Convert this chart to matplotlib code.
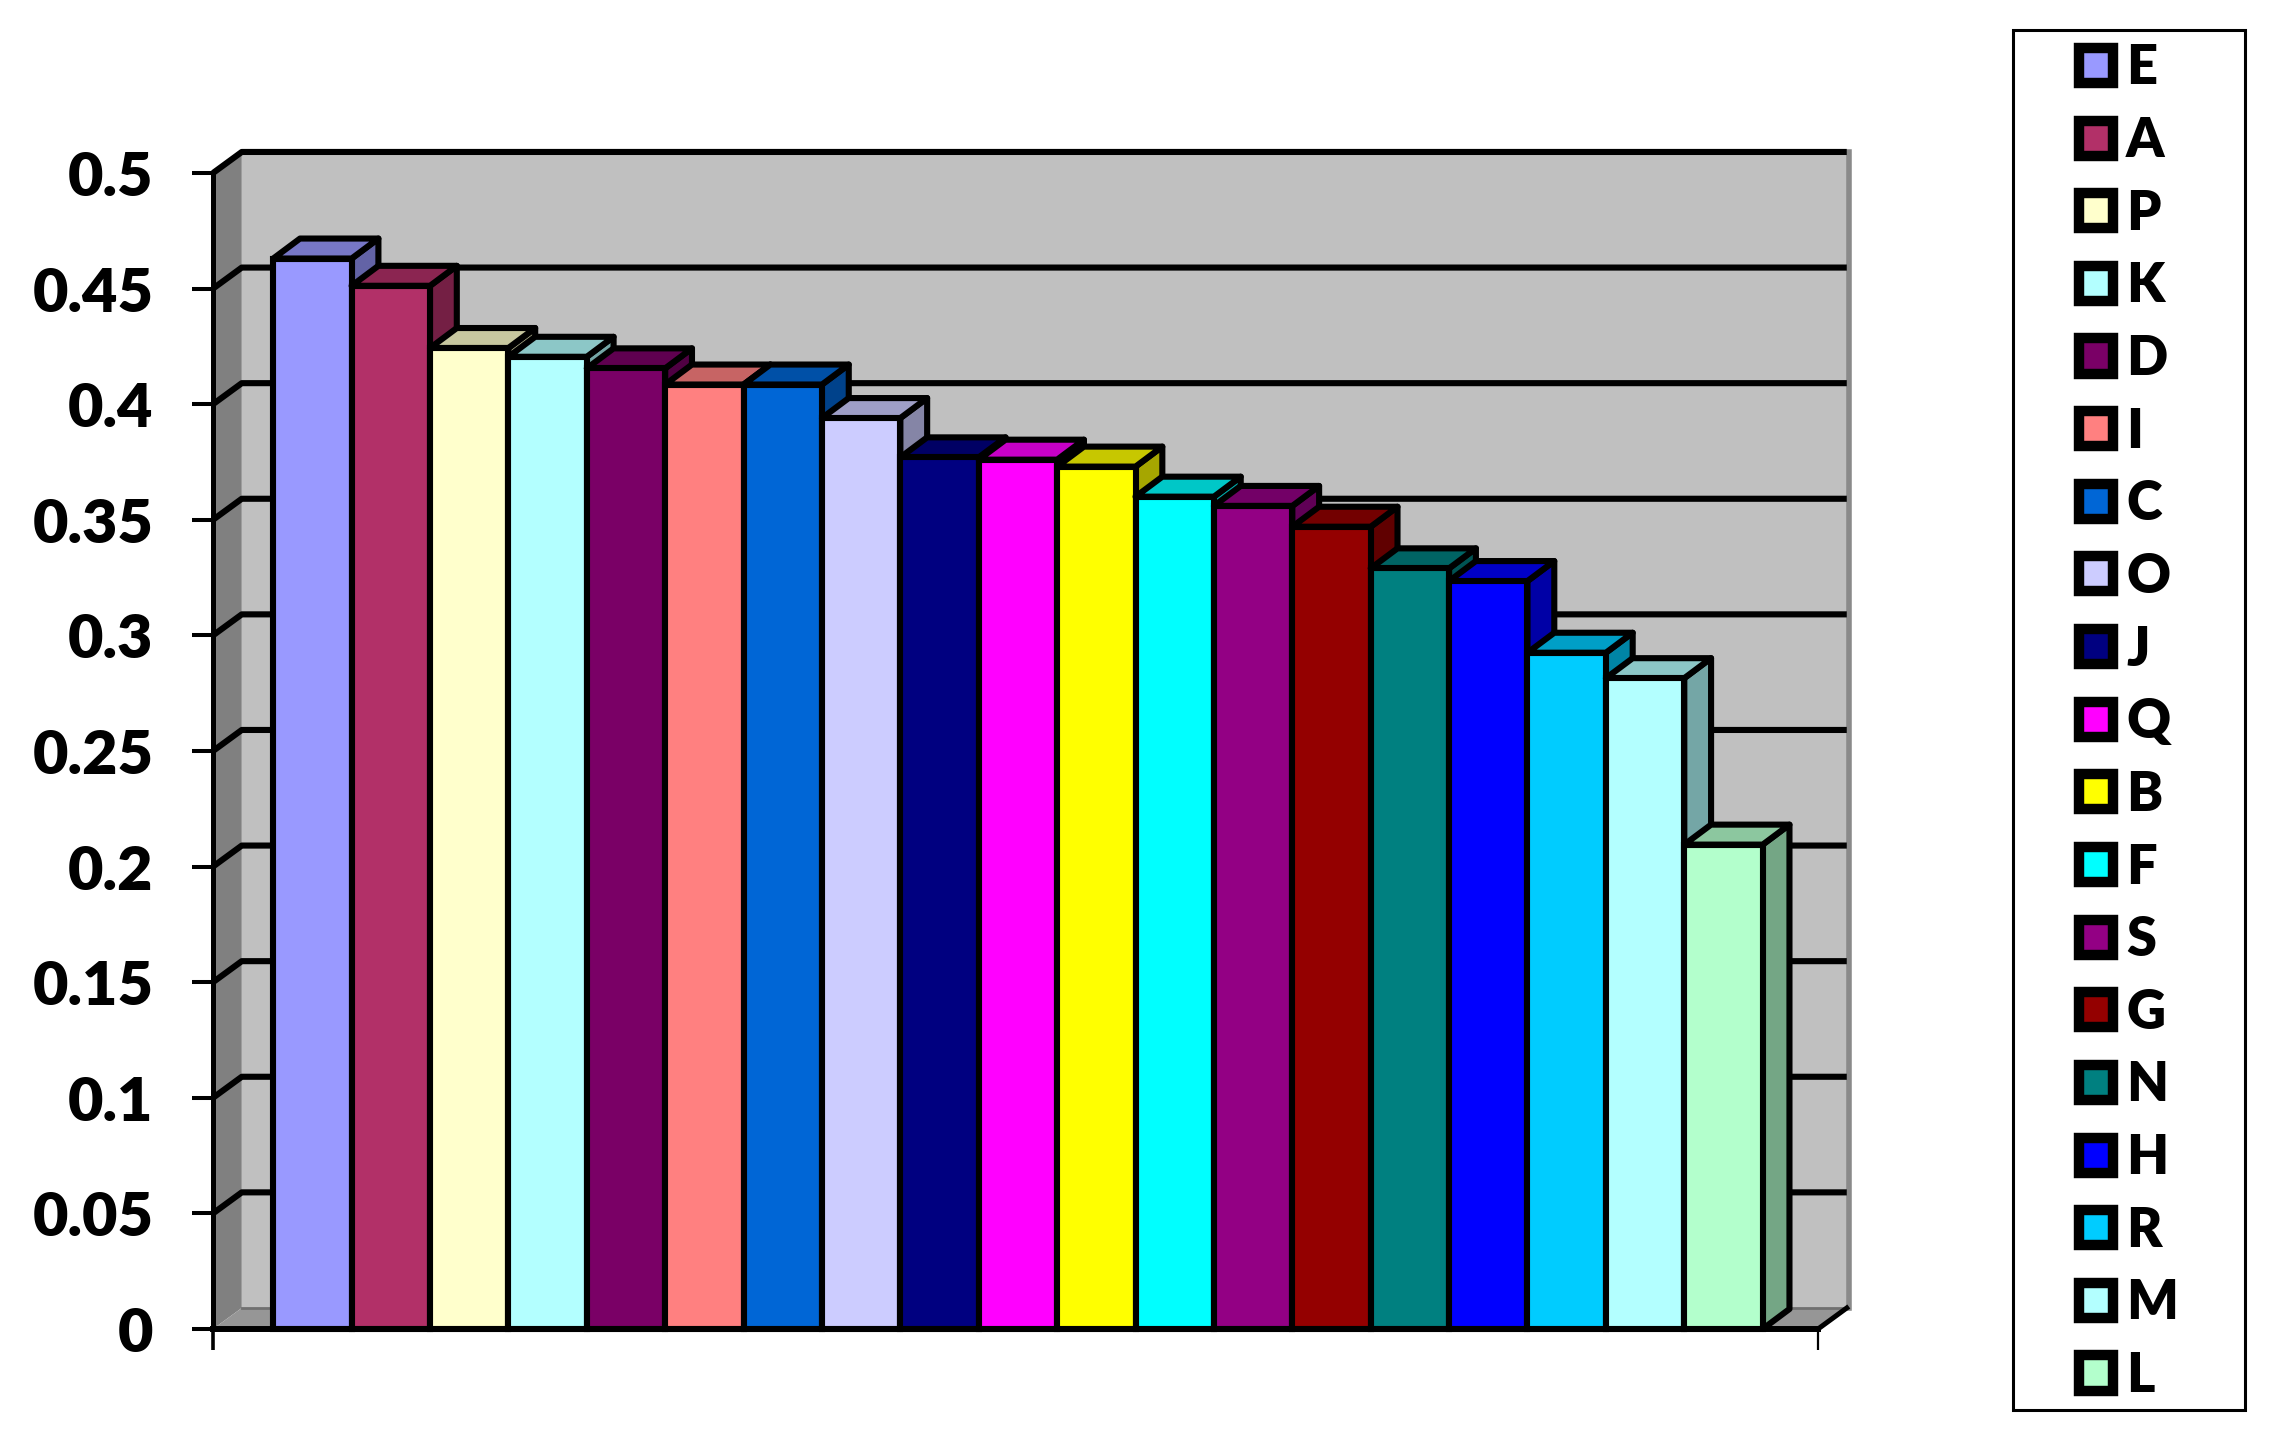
import matplotlib
matplotlib.use("Agg")
import matplotlib.pyplot as plt
from matplotlib.patches import Patch, Rectangle
from matplotlib.colors import to_rgb

plt.rcParams['font.family'] = ['Lato', 'DejaVu Sans']
plt.rcParams['font.weight'] = 'bold'

# data
labels = ["E", "A", "P", "K", "D", "I", "C", "O", "J", "Q", "B", "F", "S", "G", "N", "H", "R", "M", "L"]
values = [0.463, 0.4512, 0.4243, 0.4205, 0.4155, 0.4085, 0.4085, 0.394, 0.377, 0.376,
          0.373, 0.36, 0.356, 0.347, 0.329, 0.3235, 0.2925, 0.2815, 0.2095]
colors = ["#9999FF", "#B23068", "#FFFFCC", "#B3FFFF", "#7A0066", "#FF8080", "#0066D6", "#CCCCFF", "#000080", "#FF00FF",
          "#FFFF00", "#00FFFF", "#930084", "#940000", "#008080", "#0000FF", "#00CCFF", "#B3FFFF", "#B3FFCC"]
yticks = [0, 0.05, 0.1, 0.15, 0.2, 0.25, 0.3, 0.35, 0.4, 0.45, 0.5]
ytick_labels = ["0", "0.05", "0.1", "0.15", "0.2", "0.25", "0.3", "0.35", "0.4", "0.45", "0.5"]

W, H = 2271, 1436
fig = plt.figure(figsize=(W / 100, H / 100), dpi=100)
ax = fig.add_axes([213 / W, (H - 1329) / H, (1818 - 213) / W, (1329 - 173) / H])

x0, x1 = -1.268, 19.206
ax.set_xlim(x0, x1)
ax.set_ylim(0, 0.5)

# fake 3d depth, in data units
wall_dx, wall_dy = 0.367, 0.0091
bar_dx, bar_dy = 0.342, 0.00865


def shade(c, f):
    return tuple(v * f for v in to_rgb(c))


# walls and floor
ax.fill([x0 + wall_dx, x1 + wall_dx, x1 + wall_dx, x0 + wall_dx], [wall_dy, wall_dy, 0.5 + wall_dy, 0.5 + wall_dy],
        color="#C0C0C0", lw=0, clip_on=False, zorder=1)
ax.fill([x0, x0 + wall_dx, x0 + wall_dx, x0], [0, wall_dy, 0.5 + wall_dy, 0.5],
        color="#808080", lw=0, clip_on=False, zorder=1)
ax.fill([x0, x1, x1 + wall_dx, x0 + wall_dx], [0, 0, wall_dy, wall_dy],
        color="#969696", lw=0, clip_on=False, zorder=1)
ax.plot([x0 + wall_dx, x1 + wall_dx], [wall_dy, wall_dy], color="#707070", lw=2, clip_on=False, zorder=2)
ax.plot([x1 + wall_dx + 0.03] * 2, [wall_dy, 0.5 + wall_dy], color="#8A8A8A", lw=4, clip_on=False, zorder=2)

# gridlines on the back wall and left wall
for v in yticks[1:]:
    ax.plot([x0, x0 + wall_dx, x1 + wall_dx], [v, v + wall_dy, v + wall_dy], color="black", lw=4.4,
            clip_on=False, zorder=3, solid_capstyle="butt")
ax.plot([x1, x1 + wall_dx], [0, wall_dy], color="black", lw=3.6, clip_on=False, zorder=3)

# bars, left to right so the next top covers the previous side
xs = list(range(len(values)))
bars = ax.bar(xs, values, width=1.0, color=colors, edgecolor="black", linewidth=4.4, clip_on=False)
for i, (bar, v, c) in enumerate(zip(bars, values, colors)):
    bar.set_zorder(11 + 2 * i)
    l, r = i - 0.5, i + 0.5
    ax.fill([r, r + bar_dx, r + bar_dx, r], [0, bar_dy, v + bar_dy, v], facecolor=shade(c, 0.65),
            edgecolor="black", lw=4.4, clip_on=False, zorder=10 + 2 * i, joinstyle="round")
    ax.fill([l, r, r + bar_dx, l + bar_dx], [v, v, v + bar_dy, v + bar_dy], facecolor=shade(c, 0.78),
            edgecolor="black", lw=4.4, clip_on=False, zorder=10 + 2 * i, joinstyle="round")

# axes
for s in ["top", "right"]:
    ax.spines[s].set_visible(False)
ax.spines["left"].set_linewidth(3.6)
ax.spines["bottom"].set_linewidth(4.3)
ax.spines["left"].set_zorder(60)
ax.spines["bottom"].set_zorder(60)
ax.set_yticks(yticks)
ax.set_yticklabels(ytick_labels, fontsize=44, fontweight=800)
ax.tick_params(axis="y", length=15, width=2.9, pad=28)
ax.set_xticks([x0, x1])
ax.set_xticklabels(["", ""])
ax.tick_params(axis="x", length=15, width=2.6)
ax.xaxis.get_major_ticks()[1].tick1line.set_markeredgewidth(1.6)

# legend
fig.add_artist(Rectangle((2013 / W, 1 - 1410 / H), (2245 - 2013) / W, (1410 - 30) / H, transform=fig.transFigure,
                         facecolor="white", edgecolor="black", lw=2.2))
handles = [Patch(facecolor=c, edgecolor="black", lw=7.5, joinstyle="round") for c in colors]
leg = fig.legend(handles, labels, loc="upper left", bbox_to_anchor=(2079 / W, 1 - 43.5 / H), frameon=False,
                 prop={"weight": 800, "size": 39}, borderpad=0, borderaxespad=0,
                 handlelength=0.62, handleheight=0.62, handletextpad=0.25, labelspacing=0.418)
leg.set_zorder(5)

fig.savefig("out.png", dpi=100)
